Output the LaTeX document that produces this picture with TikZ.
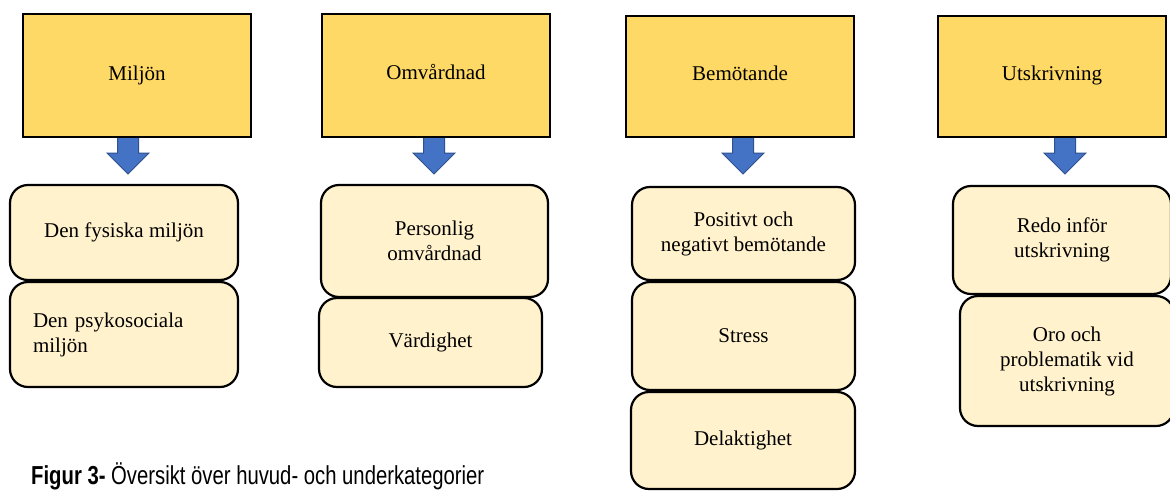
\documentclass[tikz,border=0pt]{standalone}
\usepackage{fontspec}
\setmainfont{Liberation Serif}
\newfontfamily\capfont{Liberation Sans}
\usetikzlibrary{positioning}
\definecolor{topfill}{HTML}{FFD966}
\definecolor{subfill}{HTML}{FFF2CC}
\definecolor{arrfill}{HTML}{4472C4}
\definecolor{arrdraw}{HTML}{2F528F}
\tikzset{
  topbox/.style={draw=black, fill=topfill, line width=2.2pt, rectangle, inner sep=0pt,
    font=\fontsize{21}{25}\selectfont},
  subbox/.style={draw=black, fill=subfill, line width=2.2pt, rectangle, rounded corners=18pt,
    inner sep=0pt, align=center, font=\fontsize{21}{25}\selectfont},
  blockarrow/.style={fill=arrfill, draw=arrdraw, line width=1pt, line join=miter}
}
\begin{document}
\begin{tikzpicture}[x=1pt,y=-1pt]
\useasboundingbox (0,0) rectangle (1170,490);
\fill[white] (0,0) rectangle (1170,490);

% arrows (drawn first, boxes overlap the shaft top)
\coordinate (a1) at (128,133);
\coordinate (a2) at (434,133);
\coordinate (a3) at (743,133);
\coordinate (a4) at (1065,133);
\foreach \a in {a1,a2,a3,a4}{
  \draw[blockarrow, shift={(\a)}] (-10.5,0) -- (10.5,0) -- (10.5,20) -- (21,20) -- (0,41) -- (-21,20) -- (-10.5,20) -- cycle;
}

% top boxes
\node[topbox, minimum width=228pt, minimum height=123pt] (t1) at (137,75.5) {\raisebox{-2pt}{Miljön}};
\node[topbox, minimum width=228pt, minimum height=123pt] (t2) at (436,75.5) {\raisebox{7pt}{Omvårdnad}};
\node[topbox, minimum width=228pt, minimum height=121pt] (t3) at (740,76.5) {\raisebox{6pt}{Bemötande}};
\node[topbox, minimum width=228pt, minimum height=121pt] (t4) at (1052,76.5) {\raisebox{6pt}{Utskrivning}};

% column 1
\node[subbox, minimum width=228pt, minimum height=95pt] (s11) at (124,232.5) {Den fysiska miljön};
\node[subbox, minimum width=228pt, minimum height=105pt, align=left, text width=182pt] (s12) at (124,334.5) {Den psykosociala\\miljön};

% column 2
\node[subbox, minimum width=227pt, minimum height=112pt] (s21) at (434.5,241) {Personlig\\omvårdnad};
\node[subbox, minimum width=223pt, minimum height=89pt] (s22) at (430.5,342.5) {Värdighet};

% column 3
\node[subbox, minimum width=223pt, minimum height=93pt] (s31) at (743.5,233.5) {Positivt och\\negativt bemötande};
\node[subbox, minimum width=223pt, minimum height=108pt] (s32) at (743.5,336) {Stress};
\node[subbox, minimum width=224pt, minimum height=97pt] (s33) at (743,440.5) {Delaktighet};

% column 4
\node[subbox, minimum width=218pt, minimum height=108pt] (s41) at (1062,240) {Redo inför\\utskrivning};
\node[subbox, minimum width=214pt, minimum height=130pt] (s42) at (1067,361) {Oro och\\problematik vid\\utskrivning};

% caption
\node[anchor=base west, inner sep=0pt, font=\capfont\fontsize{26}{30}\selectfont] (cap) at (31,484.5)
  {\scalebox{0.78}[1]{\textbf{Figur 3-} Översikt över huvud- och underkategorier}};
\end{tikzpicture}
\end{document}
